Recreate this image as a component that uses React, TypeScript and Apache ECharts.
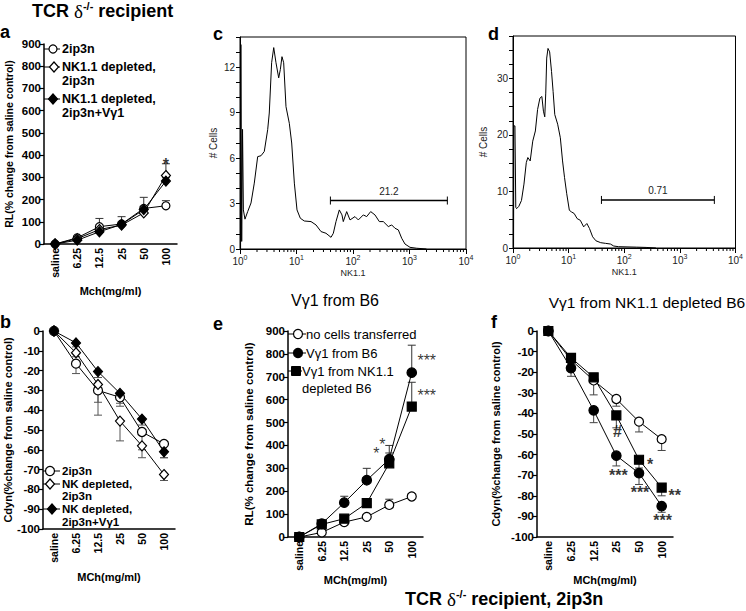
import React, { useEffect, useRef } from 'react';
import * as echarts from 'echarts';

const FONT = '"Liberation Sans", Arial, Helvetica, sans-serif';

// ---------- category panels (a, b, e, f) ----------
const doses = ['saline', '6.25', '12.5', '25', '50', '100'];

// Panel a: RL (% change), TCRδ-/- recipients
const a2ip3n = [0, 28, 78, 90, 160, 172];
const a2ip3nErr = [0, 4, 37, 33, 50, 23];
const aNkDep = [0, 24, 65, 85, 140, 308];
const aNkDepErr = [0, 3, 8, 8, 12, 53];
const aNkDepVg = [0, 17, 55, 88, 155, 283];
const aNkDepVgErr = [0, 3, 6, 6, 15, 15];

// Panel b: Cdyn (% change)
const b2ip3n = [0, -16.5, -30, -33.5, -51, -57];
const b2ip3nErr = [0, 5, 6, 4.5, 9, 7];
const bNkDep = [0, -11, -27, -45.5, -58, -72.5];
const bNkDepErr = [0, 2, 15.5, 10, 6, 3];
const bNkDepVg = [0, -6, -20.5, -31.5, -44.5, -61];
const bNkDepVgErr = [0, 2, 3, 5, 3, 3];

// Panel e: RL (% change), TCRδ-/- recipient, 2ip3n
const eNone = [0, 20, 65, 88, 140, 177];
const eNoneErr = [0, 3, 5, 5, 25, 5];
const eB6 = [0, 58, 150, 248, 340, 718];
const eB6Err = [0, 5, 28, 52, 60, 120];
const eNkDep = [0, 55, 80, 148, 322, 570];
const eNkDepErr = [0, 5, 10, 17, 45, 106];

// Panel f: Cdyn (% change)
const fNone = [0, -14, -24, -33, -44, -52.5];
const fNoneErr = [0, 3, 7, 3.5, 5, 5.5];
const fB6 = [0, -18, -38.5, -60.5, -69, -85];
const fB6Err = [0, 4, 6, 5, 5.5, 3];
const fNkDep = [0, -13, -22.5, -41, -62.5, -76];
const fNkDepErr = [0, 3, 3, 6, 4, 4];

// significance marks: category index, y value, text, x offset (px)
const aMarks = [{ cat: 5, y: 360, text: '*', dx: 0 }];
const eMarks = [
  { cat: 5, y: 773, text: '***', dx: 15 },
  { cat: 5, y: 620, text: '***', dx: 15 },
  { cat: 4, y: 363, text: '*', dx: -13 },
  { cat: 4, y: 406, text: '*', dx: -7 },
];
const fMarks = [
  { cat: 3, y: -49, text: '#', dx: 1 },
  { cat: 3, y: -70, text: '***', dx: 2 },
  { cat: 4, y: -65, text: '*', dx: 11 },
  { cat: 4, y: -78.6, text: '***', dx: 1 },
  { cat: 5, y: -80, text: '**', dx: 13 },
  { cat: 5, y: -92.2, text: '***', dx: 1 },
];

// ---------- flow histograms (c, d): x = log10(NK1.1), y = # cells ----------
const decadeTicks = [0, 1, 2, 3, 4];
const histC: number[][] = [
  [0.01, 0], [0.015, 13.5], [0.03, 0.5], [0.045, 7.9], [0.06, 2.58], [0.088, 1.97],
  [0.136, 2.47], [0.195, 3.04], [0.253, 4.35], [0.313, 6.1], [0.372, 6.16], [0.43, 6.44],
  [0.49, 7.88], [0.518, 8.98], [0.56, 12.3], [0.597, 13.3], [0.637, 12.3], [0.685, 11.3],
  [0.714, 11.85], [0.743, 12.7], [0.773, 12.3], [0.814, 9.4], [0.873, 8.3], [0.915, 7.0],
  [0.962, 4.35], [1.009, 2.58], [1.068, 2.03], [1.138, 1.85], [1.257, 1.81], [1.345, 1.59],
  [1.434, 1.15], [1.522, 1.04], [1.611, 0.77], [1.652, 1.04], [1.699, 1.81], [1.758, 2.58],
  [1.805, 2.25], [1.828, 1.81], [1.888, 2.47], [1.947, 1.92], [2.035, 2.14], [2.094, 1.92],
  [2.182, 2.25], [2.242, 2.14], [2.313, 2.47], [2.389, 2.25], [2.466, 1.81], [2.536, 1.81],
  [2.625, 1.48], [2.685, 1.59], [2.743, 1.37], [2.802, 1.26], [2.862, 0.71], [2.92, 0.33],
  [3.009, 0.11], [3.127, 0.05], [3.3, 0],
];
const histD: number[][] = [
  [0.01, 0], [0.015, 21.6], [0.035, 21.6], [0.05, 7.2], [0.065, 6.96], [0.105, 7.37],
  [0.152, 8.4], [0.197, 11.3], [0.239, 15.1], [0.267, 16.0], [0.309, 15.4], [0.355, 18.9],
  [0.402, 20.7], [0.442, 24.5], [0.484, 26.5], [0.519, 26.8], [0.547, 24.2], [0.571, 23.2],
  [0.589, 27.4], [0.606, 33.6], [0.629, 35.3], [0.659, 34.7], [0.693, 31.2], [0.721, 27.7],
  [0.751, 23.6], [0.803, 21.9], [0.851, 19.5], [0.891, 15.4], [0.926, 12.5], [0.966, 9.6],
  [1.013, 6.67], [1.053, 6.37], [1.1, 6.1], [1.153, 5.2], [1.21, 4.9], [1.27, 3.74],
  [1.328, 4.33], [1.375, 3.45], [1.432, 1.98], [1.49, 1.28], [1.577, 0.94], [1.665, 0.82],
  [1.752, 0.7], [1.811, 0.35], [1.899, 0.23], [2.218, 0.15], [2.393, 0.1], [2.57, 0],
];
// gates: [start, y, end] and percentage label
const gateC = [1.6, 3.2, 3.67];
const gateCLabel = '21.2';
const gateD = [1.59, 8.5, 3.62];
const gateDLabel = '0.71';

// log-decade minor tick positions (axis decoration)
const minorLogTicks: number[][] = [];
for (let d = 0; d < 4; d++) {
  for (let k = 2; k <= 9; k++) minorLogTicks.push([d + Math.log10(k), 0]);
}

// ---------- helpers ----------
const catX = (gridIndex: number, name: string, nameGap: number) => ({
  gridIndex,
  type: 'category',
  data: doses,
  boundaryGap: true,
  axisLine: { onZero: false, lineStyle: { color: '#000', width: 1.5 } },
  axisTick: { alignWithLabel: true, length: 4, lineStyle: { color: '#000', width: 1.2 } },
  axisLabel: { rotate: 90, margin: 4, interval: 0, color: '#000', fontSize: 10.5, fontWeight: 'bold', fontFamily: FONT },
  splitLine: { show: false },
  name,
  nameLocation: 'middle',
  nameGap,
  nameTextStyle: { color: '#000', fontSize: 11, fontWeight: 'bold', fontFamily: FONT },
});

const valY = (gridIndex: number, min: number, max: number, interval: number, name: string, nameGap: number, nameSize: number) => ({
  gridIndex,
  type: 'value',
  min,
  max,
  interval,
  axisLine: { show: true, onZero: false, lineStyle: { color: '#000', width: 1.5 } },
  axisTick: { show: true, length: 4, lineStyle: { color: '#000', width: 1.2 } },
  axisLabel: { color: '#000', fontSize: 11.5, fontWeight: 'bold', fontFamily: FONT, margin: 3 },
  splitLine: { show: false },
  name,
  nameLocation: 'middle',
  nameGap,
  nameTextStyle: { color: '#000', fontSize: nameSize, fontWeight: 'bold', fontFamily: FONT },
});

const flowX = (gridIndex: number, nameGap: number) => ({
  gridIndex,
  type: 'value',
  min: 0,
  max: 4,
  interval: 1,
  axisLine: { onZero: false, lineStyle: { color: '#000', width: 1 } },
  axisTick: { show: true, length: 5, lineStyle: { color: '#000', width: 1 } },
  axisLabel: {
    formatter: (v: number) => (decadeTicks.includes(v) ? `10{s|${v}}` : ''),
    color: '#222',
    fontSize: 10,
    lineHeight: 14,
    fontFamily: FONT,
    margin: 5,
    rich: { s: { fontSize: 7, lineHeight: 7, verticalAlign: 'top', color: '#222', fontFamily: FONT } },
  },
  splitLine: { show: false },
  name: 'NK1.1',
  nameLocation: 'middle',
  nameGap,
  nameTextStyle: { color: '#222', fontSize: 9, fontFamily: FONT },
});

const flowY = (gridIndex: number, max: number, interval: number, every: number, nameGap: number) => ({
  gridIndex,
  type: 'value',
  min: 0,
  max,
  interval,
  axisLine: { show: true, lineStyle: { color: '#000', width: 1 } },
  axisTick: { show: true, length: 4, lineStyle: { color: '#000', width: 1 } },
  axisLabel: {
    formatter: (v: number) => (Math.abs(v / every - Math.round(v / every)) < 1e-6 ? String(v) : ''),
    color: '#222',
    fontSize: 10,
    fontFamily: FONT,
    margin: 5,
  },
  splitLine: { show: false },
  name: '# Cells',
  nameLocation: 'middle',
  nameGap,
  nameTextStyle: { color: '#222', fontSize: 10, fontFamily: FONT },
});

const lineSeries = (ai: number, data: number[], symbol: string, size: number | number[], filled: boolean) => ({
  type: 'line',
  xAxisIndex: ai,
  yAxisIndex: ai,
  data,
  symbol,
  symbolSize: size,
  showSymbol: true,
  silent: true,
  itemStyle: { color: filled ? '#000' : '#fff', borderColor: '#000', borderWidth: 1.2, opacity: 1 },
  lineStyle: { color: '#000', width: 1 },
  z: 3,
});

const errSeries = (ai: number, data: number[], err: number[], dir: number, color: string) => ({
  type: 'custom',
  xAxisIndex: ai,
  yAxisIndex: ai,
  silent: true,
  z: 2,
  clip: false,
  data: data.map((v, i) => [i, v, v + dir * err[i]]),
  renderItem: (params: any, api: any) => {
    const x = api.value(0);
    const p1 = api.coord([x, api.value(1)]);
    const p2 = api.coord([x, api.value(2)]);
    if (Math.abs(p1[1] - p2[1]) < 0.5) return null;
    return {
      type: 'group',
      children: [
        { type: 'line', shape: { x1: p1[0], y1: p1[1], x2: p2[0], y2: p2[1] }, style: { stroke: color, lineWidth: 1 } },
        { type: 'line', shape: { x1: p2[0] - 4, y1: p2[1], x2: p2[0] + 4, y2: p2[1] }, style: { stroke: color, lineWidth: 1 } },
      ],
    };
  },
});

const markSeries = (ai: number, marks: { cat: number; y: number; text: string; dx: number }[], fontSize: number, weight: string) => ({
  type: 'scatter',
  xAxisIndex: ai,
  yAxisIndex: ai,
  silent: true,
  z: 5,
  symbolSize: 1,
  itemStyle: { color: 'rgba(0,0,0,0)' },
  data: marks.map((m) => ({ value: [m.cat, m.y], name: m.text, label: { offset: [m.dx, 0] } })),
  label: {
    show: true,
    formatter: '{b}',
    position: 'inside',
    color: '#000',
    fontSize,
    fontWeight: weight,
    fontFamily: FONT,
    textBorderWidth: 0,
    textBorderColor: 'transparent',
  },
});

const histSeries = (ai: number, data: number[][]) => ({
  type: 'line',
  xAxisIndex: ai,
  yAxisIndex: ai,
  data,
  symbol: 'none',
  showSymbol: false,
  silent: true,
  lineStyle: { color: '#000', width: 1 },
  z: 3,
});

const minorTickSeries = (ai: number) => ({
  type: 'custom',
  xAxisIndex: ai,
  yAxisIndex: ai,
  silent: true,
  clip: false,
  data: minorLogTicks,
  renderItem: (params: any, api: any) => {
    const p = api.coord([api.value(0), 0]);
    return { type: 'line', shape: { x1: p[0], y1: p[1], x2: p[0], y2: p[1] + 3 }, style: { stroke: '#000', lineWidth: 1 } };
  },
});

const gateSeries = (ai: number, gate: number[], label: string) => ({
  type: 'custom',
  xAxisIndex: ai,
  yAxisIndex: ai,
  silent: true,
  clip: false,
  data: [gate],
  renderItem: (params: any, api: any) => {
    const p1 = api.coord([api.value(0), api.value(1)]);
    const p2 = api.coord([api.value(2), api.value(1)]);
    const st = { stroke: '#000', lineWidth: 1.5 };
    return {
      type: 'group',
      children: [
        { type: 'line', shape: { x1: p1[0], y1: p1[1], x2: p2[0], y2: p2[1] }, style: st },
        { type: 'line', shape: { x1: p1[0], y1: p1[1] - 4, x2: p1[0], y2: p1[1] + 4 }, style: { stroke: '#000', lineWidth: 1 } },
        { type: 'line', shape: { x1: p2[0], y1: p2[1] - 4, x2: p2[0], y2: p2[1] + 4 }, style: { stroke: '#000', lineWidth: 1 } },
        {
          type: 'text',
          x: (p1[0] + p2[0]) / 2,
          y: p1[1] - 9,
          style: { text: label, fill: '#222', fontSize: 10, fontFamily: FONT, align: 'center', verticalAlign: 'middle' },
        },
      ],
    };
  },
});

// ---------- graphic (titles, legends, letters) ----------
const txt = (x: number, y: number, text: string, size: number, weight = 'bold', align = 'left', extra: any = {}) => ({
  type: 'text',
  x,
  y,
  silent: true,
  style: { text, fill: '#000', fontSize: size, fontWeight: weight, fontFamily: FONT, align, verticalAlign: 'middle', ...extra },
});
const hline = (x1: number, x2: number, y: number) => ({
  type: 'line',
  silent: true,
  shape: { x1, y1: y, x2, y2: y },
  style: { stroke: '#000', lineWidth: 1 },
});
const circ = (cx: number, cy: number, r: number, filled: boolean) => ({
  type: 'circle',
  silent: true,
  shape: { cx, cy, r },
  style: { fill: filled ? '#000' : '#fff', stroke: '#000', lineWidth: 1.2 },
  z: 10,
});
const diam = (cx: number, cy: number, w: number, h: number, filled: boolean) => ({
  type: 'polygon',
  silent: true,
  shape: { points: [[cx, cy - h / 2], [cx + w / 2, cy], [cx, cy + h / 2], [cx - w / 2, cy]] },
  style: { fill: filled ? '#000' : '#fff', stroke: '#000', lineWidth: 1.2 },
  z: 10,
});
const sq = (cx: number, cy: number, s: number) => ({
  type: 'rect',
  silent: true,
  shape: { x: cx - s / 2, y: cy - s / 2, width: s, height: s },
  style: { fill: '#000', stroke: '#000', lineWidth: 1 },
  z: 10,
});

const titleRich = {
  d: { fontSize: 19, fontFamily: '"Liberation Serif", "DejaVu Serif", serif', fontWeight: 'normal', lineHeight: 22 },
  s: { fontSize: 11, fontWeight: 'bold', fontFamily: FONT, verticalAlign: 'top', lineHeight: 11 },
};

function buildOption() {
  const graphic: any[] = [
    txt(32, 11, 'TCR {d|δ}{s|-/-} recipient', 18, 'bold', 'left', { rich: titleRich, lineHeight: 22 }),
    txt(405, 599, 'TCR {d|δ}{s|-/-} recipient, 2ip3n', 18, 'bold', 'left', { rich: titleRich, lineHeight: 22 }),
    // panel letters
    txt(0, 32, 'a', 18),
    txt(0, 322, 'b', 18),
    txt(213, 34, 'c', 18),
    txt(488, 34, 'd', 18),
    txt(213, 324, 'e', 18),
    txt(491, 322, 'f', 18),
    // captions
    txt(335, 300, 'Vγ1 from B6', 16, 'normal', 'center'),
    txt(647, 302, 'Vγ1 from NK1.1 depleted B6', 15.5, 'normal', 'center'),
    // legend a
    hline(44, 60, 49), circ(53, 49, 4, false), txt(62, 49, '2ip3n', 12.5),
    hline(44, 60, 67), diam(54, 67, 9, 10, false), txt(62, 67, 'NK1.1 depleted,', 12.5), txt(62, 81, '2ip3n', 12.5),
    hline(44, 60, 99), diam(53, 99, 9, 10, true), txt(62, 99, 'NK1.1 depleted,', 12.5), txt(62, 113, '2ip3n+Vγ1', 12.5),
    // legend b
    hline(43, 60, 471), circ(50, 471, 4.5, false), txt(62, 471, '2ip3n', 11.5),
    hline(43, 60, 484), diam(50, 484, 9, 10, false), txt(62, 484, 'NK depleted,', 11.5), txt(62, 496, '2ip3n', 11.5),
    hline(43, 60, 509), diam(52, 509, 9, 10, true), txt(62, 509, 'NK depleted,', 11.5), txt(62, 522, '2ip3n+Vγ1', 11.5),
    // legend e
    hline(288, 306, 334), circ(298, 334, 4.5, false), txt(306, 334, 'no cells transferred', 13, 'normal'),
    hline(288, 306, 353), circ(298, 353, 4.5, true), txt(306, 353, 'Vγ1 from B6', 13, 'normal'),
    hline(288, 302, 371), sq(296, 371, 9), txt(302, 371, 'Vγ1 from NK1.1', 13, 'normal'), txt(302, 388, 'depleted B6', 13, 'normal'),
  ];

  return {
    animation: false,
    backgroundColor: '#fff',
    textStyle: { fontFamily: FONT },
    grid: [
      { left: 44, top: 44, width: 133, height: 200 },
      { left: 43, top: 331, width: 132, height: 198 },
      { left: 240, top: 37, width: 226, height: 212, show: true, borderColor: '#000', borderWidth: 1 },
      { left: 513, top: 36, width: 229, height: 212, show: true, borderColor: '#000', borderWidth: 1 },
      { left: 288, top: 331, width: 135, height: 206 },
      { left: 537, top: 331, width: 136, height: 206 },
    ],
    xAxis: [
      catX(0, 'Mch(mg/ml)', 41),
      catX(1, 'MCh(mg/ml)', 42),
      flowX(2, 19),
      flowX(3, 19),
      catX(4, 'MCh(mg/ml)', 33),
      catX(5, 'MCh(mg/ml)', 33),
    ],
    yAxis: [
      valY(0, 0, 900, 100, 'RL(% change from saline control)', 30, 10.5),
      valY(1, -100, 0, 10, 'Cdyn(%change from saline control)', 28, 11),
      flowY(2, 14, 1, 3, 22),
      flowY(3, 37.5, 2.5, 10, 25),
      valY(4, 0, 900, 100, 'RL(% change from saline control)', 33, 11.5),
      valY(5, -100, 0, 10, 'Cdyn(%change from saline control)', 36, 11),
    ],
    series: [
      // a
      errSeries(0, a2ip3n, a2ip3nErr, 1, '#333'),
      errSeries(0, aNkDep, aNkDepErr, 1, '#333'),
      errSeries(0, aNkDepVg, aNkDepVgErr, 1, '#333'),
      lineSeries(0, a2ip3n, 'circle', 8, false),
      lineSeries(0, aNkDep, 'diamond', [9, 10], false),
      lineSeries(0, aNkDepVg, 'diamond', [9, 10], true),
      markSeries(0, aMarks, 16, 'bold'),
      // b
      errSeries(1, b2ip3n, b2ip3nErr, -1, '#555'),
      errSeries(1, bNkDep, bNkDepErr, -1, '#555'),
      errSeries(1, bNkDepVg, bNkDepVgErr, -1, '#555'),
      lineSeries(1, b2ip3n, 'circle', 9, false),
      lineSeries(1, bNkDep, 'diamond', [9, 10], false),
      lineSeries(1, bNkDepVg, 'diamond', [9, 10], true),
      // c
      histSeries(2, histC),
      minorTickSeries(2),
      gateSeries(2, gateC, gateCLabel),
      // d
      histSeries(3, histD),
      minorTickSeries(3),
      gateSeries(3, gateD, gateDLabel),
      // e
      errSeries(4, eNone, eNoneErr, 1, '#333'),
      errSeries(4, eB6, eB6Err, 1, '#333'),
      errSeries(4, eNkDep, eNkDepErr, 1, '#333'),
      lineSeries(4, eNone, 'circle', 9, false),
      lineSeries(4, eB6, 'circle', 9.5, true),
      lineSeries(4, eNkDep, 'rect', 9, true),
      markSeries(4, eMarks, 16, 'normal'),
      // f
      errSeries(5, fNone, fNoneErr, -1, '#444'),
      errSeries(5, fB6, fB6Err, -1, '#444'),
      errSeries(5, fNkDep, fNkDepErr, -1, '#444'),
      lineSeries(5, fNone, 'circle', 9, false),
      lineSeries(5, fB6, 'circle', 9.5, true),
      lineSeries(5, fNkDep, 'rect', 9, true),
      markSeries(5, fMarks, 16, 'bold'),
    ],
    graphic,
  };
}

export default function App() {
  const ref = useRef<HTMLDivElement>(null);
  useEffect(() => {
    if (!ref.current) return;
    const chart = echarts.init(ref.current, null, { renderer: 'svg' });
    chart.setOption(buildOption() as any);
    return () => chart.dispose();
  }, []);
  return (
    <div
      ref={ref}
      style={{ position: 'absolute', left: 0, top: 0, width: 746, height: 611, background: '#fff' }}
    />
  );
}
